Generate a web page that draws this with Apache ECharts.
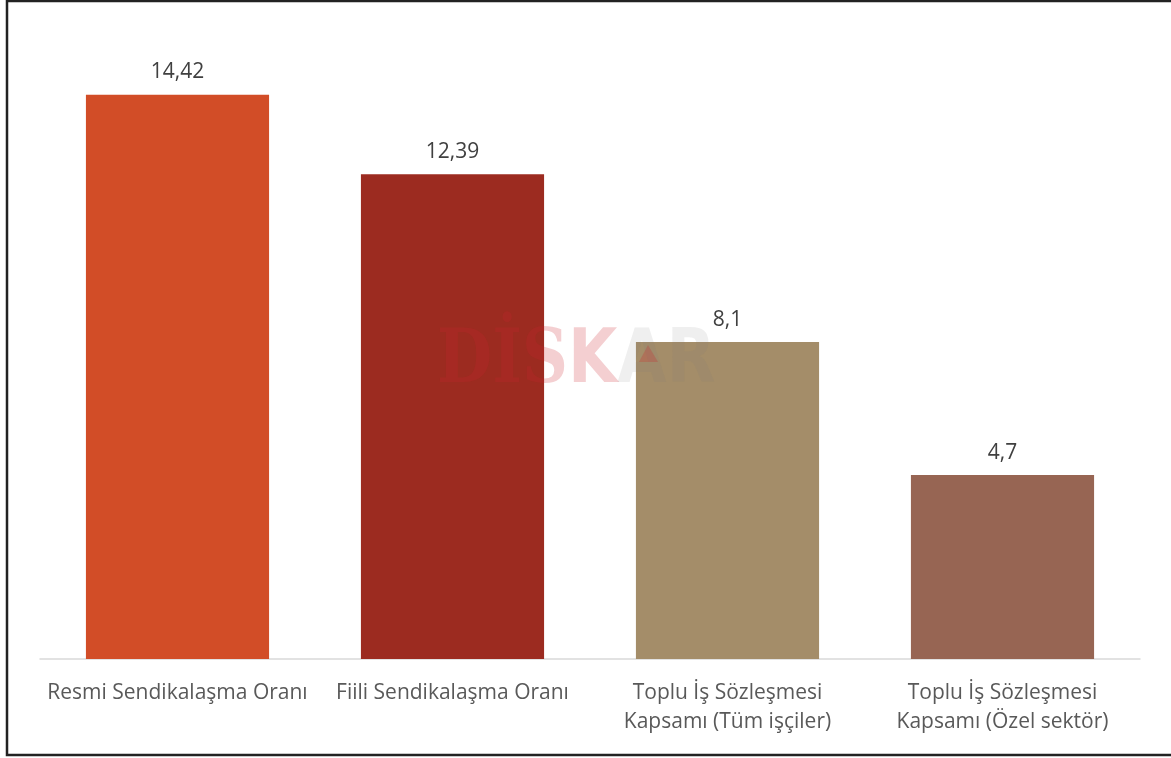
<!DOCTYPE html>
<html lang="tr">
<head>
<meta charset="UTF-8">
<title>Sendikalaşma</title>
<style>
  html, body { margin: 0; padding: 0; background: #fff; }
  #chart-container { width: 1171px; height: 758px; }
</style>
</head>
<body>
<div id="chart-container"></div>
<script src="https://cdn.jsdelivr.net/npm/echarts@6/dist/echarts.min.js"></script>
<script>
const categories = [
  'Resmi Sendikalaşma Oranı',
  'Fiili Sendikalaşma Oranı',
  'Toplu İş Sözleşmesi\nKapsamı (Tüm işçiler)',
  'Toplu İş Sözleşmesi\nKapsamı (Özel sektör)'
];
const values = [14.42, 12.39, 8.1, 4.7];
const barColors = ['#D24D27', '#9C2B20', '#A48D69', '#976553'];

var dom = document.getElementById('chart-container');
var myChart = echarts.init(dom, null, { renderer: 'canvas' });

var option = {
  animation: false,
  backgroundColor: '#fff',
  grid: { left: 40, right: 31, top: 33, bottom: 99 },
  xAxis: {
    type: 'category',
    data: categories,
    axisTick: { show: false },
    axisLine: { lineStyle: { color: '#d9d9d9', width: 1.5 } },
    axisLabel: {
      interval: 0,
      margin: 20,
      color: '#595959',
      fontFamily: 'Open Sans',
      fontSize: 21,
      lineHeight: 29
    }
  },
  yAxis: {
    type: 'value',
    min: 0,
    max: 16,
    show: false
  },
  series: [{
    type: 'bar',
    barWidth: '66.6%',
    data: values.map(function (v, i) {
      return { value: v, itemStyle: { color: barColors[i] } };
    }),
    label: {
      show: true,
      position: 'top',
      distance: 12,
      color: '#404040',
      fontFamily: 'Open Sans',
      fontSize: 21,
      formatter: function (p) { return String(p.value).replace('.', ','); }
    }
  }],
  graphic: [
    // frame: left, top and bottom edges only
    {
      type: 'polyline',
      silent: true,
      shape: { points: [[1171, 1], [7, 1], [7, 755], [1171, 755]] },
      style: { fill: 'none', stroke: '#222', lineWidth: 2.5 }
    },
    // DİSKAR watermark
    {
      type: 'text',
      x: 437, y: 326,
      scaleX: 0.86,
      z: 100,
      silent: true,
      style: {
        text: '{a|DİS}{b|K}{c|AR}',
        rich: {
          a: { fontFamily: 'DejaVu Serif', fontWeight: 'bold', fontSize: 74, fill: 'rgba(205,35,45,0.22)' },
          b: { fontFamily: 'DejaVu Sans', fontWeight: 'bold', fontSize: 74, fill: 'rgba(205,35,45,0.22)' },
          c: { fontFamily: 'DejaVu Sans', fontWeight: 'bold', fontSize: 74, fill: 'rgba(120,120,120,0.12)' }
        }
      }
    },
    {
      type: 'polygon',
      z: 101,
      silent: true,
      shape: { points: [[648, 345], [639, 362], [658, 362]] },
      style: { fill: 'rgba(205,35,45,0.25)' }
    }
  ]
};

myChart.setOption(option);
window.addEventListener('resize', myChart.resize);
</script>
</body>
</html>
